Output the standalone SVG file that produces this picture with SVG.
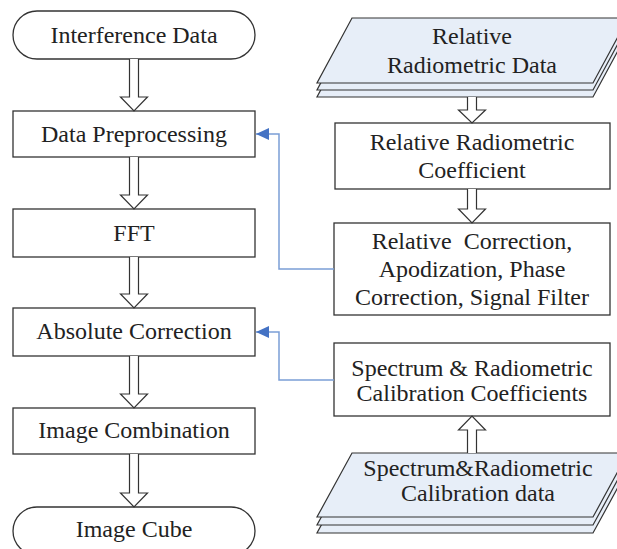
<svg xmlns="http://www.w3.org/2000/svg" width="617" height="549" viewBox="0 0 617 549">
  <style>
    .box { fill: #ffffff; stroke: #333333; stroke-width: 1.3; }
    .data { fill: #e7eef8; stroke: #333333; stroke-width: 1.2; }
    .hollow { fill: #ffffff; stroke: #333333; stroke-width: 1.2; stroke-linejoin: miter; }
    .link { fill: none; stroke: #7b9ed6; stroke-width: 1.5; }
    .lbl { font-size: 24px; fill: #222222; text-anchor: middle; }
  </style>
  <defs>
    <marker id="blueHead" viewBox="0 0 13 12" refX="13" refY="6" markerWidth="13" markerHeight="12" markerUnits="userSpaceOnUse" orient="auto">
      <path d="M0,0 L13,6 L0,12 Z" fill="#4472c4"/>
    </marker>
  </defs>

  <rect width="617" height="549" fill="#ffffff"/>

  <g font-family="'Liberation Serif', 'Times New Roman', 'DejaVu Serif', serif">
  <!-- main processing chain -->
  <g id="interference-data">
    <rect class="box" x="13" y="11" width="242" height="48" rx="24"/>
    <text class="lbl" x="134" y="43">Interference Data</text>
  </g>
  <g id="data-preprocessing">
    <rect class="box" x="13" y="111" width="242" height="46"/>
    <text class="lbl" x="134" y="142">Data Preprocessing</text>
  </g>
  <g id="fft">
    <rect class="box" x="13" y="209" width="242" height="48"/>
    <text class="lbl" x="134" y="241">FFT</text>
  </g>
  <g id="absolute-correction">
    <rect class="box" x="13" y="308" width="242" height="48"/>
    <text class="lbl" x="134" y="339">Absolute Correction</text>
  </g>
  <g id="image-combination">
    <rect class="box" x="13" y="408" width="242" height="46"/>
    <text class="lbl" x="134" y="438">Image Combination</text>
  </g>
  <g id="image-cube">
    <rect class="box" x="13" y="507" width="242" height="48" rx="24"/>
    <text class="lbl" x="134" y="537">Image Cube</text>
  </g>

  <!-- calibration inputs -->
  <g id="relative-radiometric-data">
    <path class="data" d="M352,32 L628,32 L593,97 L317,97 Z"/>
    <path class="data" d="M352,25 L628,25 L593,90 L317,90 Z"/>
    <path class="data" d="M352,18 L628,18 L593,83 L317,83 Z"/>
    <text class="lbl" x="472" y="44">Relative</text>
    <text class="lbl" x="472" y="73">Radiometric Data</text>
  </g>
  <g id="relative-radiometric-coefficient">
    <rect class="box" x="335" y="123" width="275" height="66"/>
    <text class="lbl" x="472" y="150">Relative Radiometric</text>
    <text class="lbl" x="472" y="178">Coefficient</text>
  </g>
  <g id="relative-correction">
    <rect class="box" x="334" y="223" width="276" height="92"/>
    <text class="lbl" x="472" y="249" xml:space="preserve">Relative  Correction,</text>
    <text class="lbl" x="472" y="277">Apodization, Phase</text>
    <text class="lbl" x="472" y="305">Correction, Signal Filter</text>
  </g>
  <g id="calibration-coefficients">
    <rect class="box" x="334" y="343" width="276" height="73"/>
    <text class="lbl" x="472" y="376">Spectrum &amp; Radiometric</text>
    <text class="lbl" x="472" y="401">Calibration Coefficients</text>
  </g>
  <g id="calibration-data">
    <path class="data" d="M352,469 L628,469 L593,533 L317,533 Z"/>
    <path class="data" d="M352,461 L628,461 L593,525 L317,525 Z"/>
    <path class="data" d="M352,453 L628,453 L593,517 L317,517 Z"/>
    <text class="lbl" x="478" y="476">Spectrum&amp;Radiometric</text>
    <text class="lbl" x="478" y="501">Calibration data</text>
  </g>
  </g>

  <!-- connectors -->
  <g id="connectors">
    <path class="hollow" d="M129.5,59 V97 H120.5 L134,111 L147.5,97 H138.5 V59"/>
    <path class="hollow" d="M129.5,157 V195 H120.5 L134,209 L147.5,195 H138.5 V157"/>
    <path class="hollow" d="M129.5,257 V294 H120.5 L134,308 L147.5,294 H138.5 V257"/>
    <path class="hollow" d="M129.5,356 V394 H120.5 L134,408 L147.5,394 H138.5 V356"/>
    <path class="hollow" d="M129.5,454 V493 H120.5 L134,507 L147.5,493 H138.5 V454"/>

    <path class="hollow" d="M467.5,97 V110 H458.5 L472,123 L485.5,110 H476.5 V97"/>
    <path class="hollow" d="M467.5,189 V209 H458.5 L472,223 L485.5,209 H476.5 V189"/>
    <path class="hollow" d="M467.5,453 V430 H458.5 L472,416 L485.5,430 H476.5 V453"/>

    <path class="link" d="M334,269 H279 V134 H256" marker-end="url(#blueHead)"/>
    <path class="link" d="M334,380 H279 V332 H256" marker-end="url(#blueHead)"/>
  </g>
</svg>
